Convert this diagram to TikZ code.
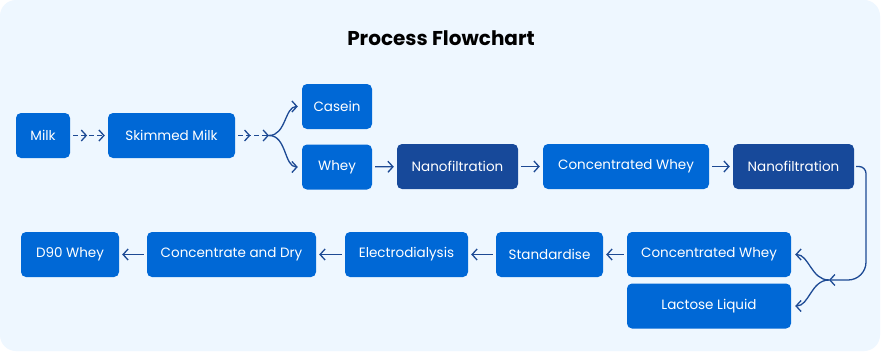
\documentclass[tikz,border=0pt]{standalone}
\usepackage{fontspec}
\setmainfont{Poppins}
\usetikzlibrary{arrows.meta,decorations.markings}
\definecolor{bgblue}{HTML}{EEF7FF}
\definecolor{boxblue}{HTML}{0068D6}
\definecolor{boxdark}{HTML}{17499A}
\definecolor{linkblue}{HTML}{1D4A94}
\begin{document}
\begin{tikzpicture}[x=1pt,y=-1pt,every node/.style={font=\fontsize{13.5}{16}\selectfont},
        bx/.style={rectangle,rounded corners=5pt,fill=boxblue,text=white,minimum height=45pt,inner sep=0},
        dk/.style={bx,fill=boxdark},
        link/.style={draw=linkblue,line width=1.3pt,-{Straight Barb[length=5pt,width=11pt]}},
        midtip/.style={dash pattern=on 5pt off 3pt,postaction={decorate},
            decoration={markings,mark=at position 0.45 with {\arrow[solid]{Straight Barb[length=5pt,width=11pt]}}}}]
        % background
        \useasboundingbox (0,0) rectangle (882,353);
        \fill[white] (0,0) rectangle (882,353);
        \fill[bgblue,rounded corners=16pt] (0,0) rectangle (880,351);
        \node[font=\fontsize{20}{24}\selectfont\bfseries] (title) at (441,38) {Process Flowchart};
        % top row
        \node[bx,minimum width=54pt] (milk) at (43,135.5) {Milk};
        \node[bx,minimum width=127pt] (skim) at (171.5,135.5) {Skimmed Milk};
        \node[bx,minimum width=70pt] (casein) at (337,106.5) {Casein};
        \node[bx,minimum width=70pt] (whey) at (337,167) {Whey};
        \node[dk,minimum width=121pt] (nano1) at (457.5,166.5) {Nanofiltration};
        \node[bx,minimum width=166pt] (conc1) at (626,166.5) {Concentrated Whey};
        \node[dk,minimum width=121pt] (nano2) at (793.5,166.5) {Nanofiltration};
        % bottom row
        \node[bx,minimum width=164pt] (conc2) at (709,254.5) {Concentrated Whey};
        \node[bx,minimum width=164pt] (lact) at (709,306) {Lactose Liquid};
        \node[bx,minimum width=107pt] (stand) at (549.5,254.5) {Standardise};
        \node[bx,minimum width=123pt] (elec) at (406.5,254.5) {Electrodialysis};
        \node[bx,minimum width=169pt] (dry) at (231.5,254.5) {Concentrate and Dry};
        \node[bx,minimum width=98pt] (d90) at (70,254.5) {D90 Whey};
        % branch points
        \coordinate (sp1) at (269,135.5);
        \coordinate (sp2) at (829,280);
        % connectors
        \draw[link,midtip,shorten <=3pt,shorten >=3pt] (milk) -- (skim);
        \draw[link,midtip,shorten <=3pt] (skim) -- (sp1);
        \draw[link,shorten >=4pt] (sp1) to[out=0,in=180] (casein.west);
        \draw[link,shorten >=4pt] (sp1) to[out=0,in=180] (whey.west);
        \draw[link,shorten <=3pt,shorten >=3pt] (whey) -- (nano1);
        \draw[link,shorten <=3pt,shorten >=3pt] (nano1) -- (conc1);
        \draw[link,shorten <=3pt,shorten >=3pt] (conc1) -- (nano2);
        \draw[link,rounded corners=7pt,shorten <=2pt] (nano2.east) -- (866,166.5)
            [rounded corners=18pt] -- (866,280) -- (sp2);
        \draw[link,shorten >=4pt] (sp2) to[out=180,in=0] (conc2.east);
        \draw[link,shorten >=4pt] (sp2) to[out=180,in=0] (lact.east);
        \draw[link,shorten <=3pt,shorten >=3pt] (conc2) -- (stand);
        \draw[link,shorten <=3pt,shorten >=3pt] (stand) -- (elec);
        \draw[link,shorten <=3pt,shorten >=3pt] (elec) -- (dry);
        \draw[link,shorten <=3pt,shorten >=3pt] (dry) -- (d90);
\end{tikzpicture}
\end{document}
